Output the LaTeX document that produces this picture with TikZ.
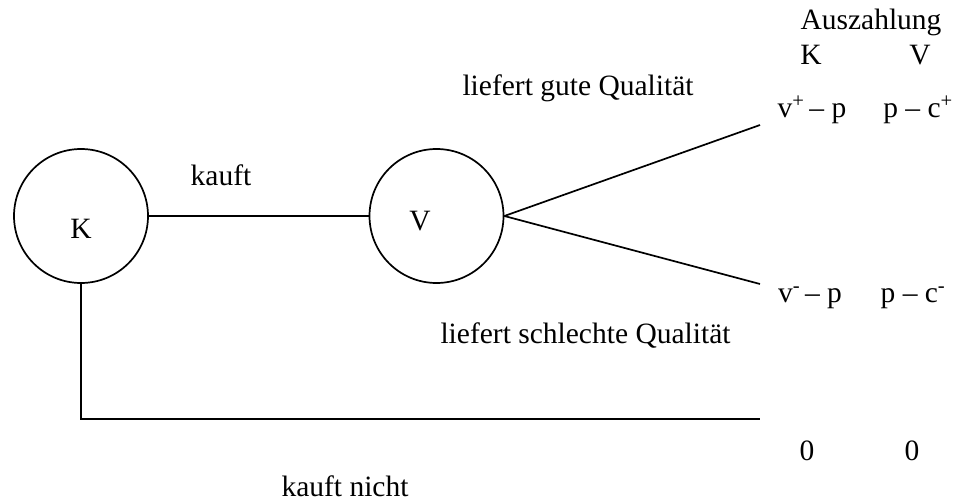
\documentclass[tikz,border=0pt]{standalone}
\usepackage{fontspec}
\setmainfont{Liberation Serif}
\begin{document}
\begin{tikzpicture}[x=1pt,y=-1pt,
  lbl/.style={inner sep=0pt,anchor=base,font=\fontsize{29.5}{34}\selectfont},
  player/.style={draw,circle,line width=1.7pt,minimum size=134pt,inner sep=0pt},
  edge/.style={line width=1.7pt}]
\useasboundingbox (0,0) rectangle (958,503);
\node[player] (K) at (81,216) {};
\node[player] (V) at (436.5,216) {};
\node[lbl] (Kl) at (81,238) {K};
\node[lbl] (Vl) at (420,230) {V};
\coordinate (a) at (760,125);
\coordinate (b) at (760,284);
\coordinate (c) at (760,419);
\draw[edge] (K.east) -- (V.west);
\draw[edge] (V.east) -- (a);
\draw[edge] (V.east) -- (b);
\draw[edge] (K.south) |- (c);
\node[lbl] (kauft) at (221,185) {kauft};
\node[lbl] (gut) at (578,95) {liefert gute Qualität};
\node[lbl] (schlecht) at (585.5,343) {liefert schlechte Qualität};
\node[lbl] (nicht) at (345,496) {kauft nicht};
\node[lbl] (aus) at (871,30) {Auszahlung};
\node[lbl] (hK) at (811,65) {K};
\node[lbl] (hV) at (920,65) {V};
\node[lbl] (p1) at (812,117) {v\textsuperscript{+}\,– p};
\node[lbl] (p2) at (918,117) {p – c\textsuperscript{+}};
\node[lbl] (p3) at (810,302) {v\textsuperscript{-}\,– p};
\node[lbl] (p4) at (913,302) {p – c\textsuperscript{-}};
\node[lbl] (z1) at (807,460) {0};
\node[lbl] (z2) at (912,460) {0};
\end{tikzpicture}
\end{document}
